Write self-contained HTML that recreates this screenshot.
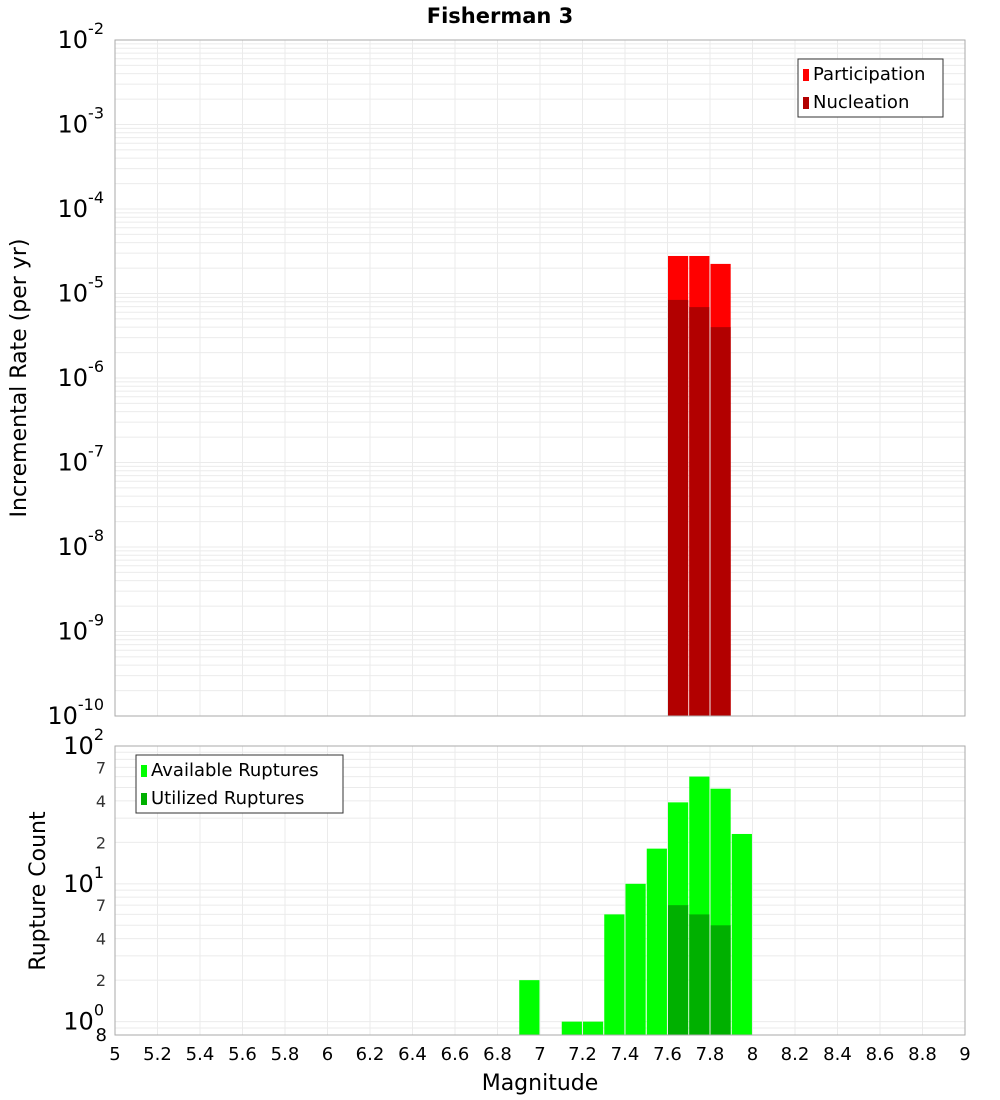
<!DOCTYPE html>
<html><head><meta charset="utf-8"><style>body{margin:0;background:#fff}svg{display:block;font-family:"DejaVu Sans","Liberation Sans",sans-serif}</style></head>
<body>
<svg id="c" width="1000" height="1100"></svg>
<script>
const magBins=[7.65,7.75,7.85];
const participation=[2.78e-5,2.78e-5,2.24e-5];
const nucleation=[8.4e-6,6.9e-6,4.0e-6];
const countBins=[6.95,7.15,7.25,7.35,7.45,7.55,7.65,7.75,7.85,7.95];
const available=[2,1,1,6,10,18,39,60,49,23];
const utilBins=[7.65,7.75,7.85];
const utilized=[7,6,5];
const xTicks=[5,5.2,5.4,5.6,5.8,6,6.2,6.4,6.6,6.8,7,7.2,7.4,7.6,7.8,8,8.2,8.4,8.6,8.8,9];
const topExp=[-10,-9,-8,-7,-6,-5,-4,-3,-2];
const botMinor=[[70,'7'],[40,'4'],[20,'2'],[7,'7'],[4,'4'],[2,'2']];

const svg=document.getElementById('c');const NS='http://www.w3.org/2000/svg';
function el(t,a,p){const e=document.createElementNS(NS,t);for(const k in a)e.setAttribute(k,a[k]);(p||svg).appendChild(e);return e;}
const L=115,R=965;
const x=v=>L+(v-5)/4*(R-L);
const T0=40,T1=716;const yT=v=>T1-(Math.log10(v)+10)/8*(T1-T0);
const B0=746,B1=1035;const lb=Math.log10(0.8);const yB=v=>B1-(Math.log10(v)-lb)/(2-lb)*(B1-B0);

function grid(y0,y1,yf,lo,hi){
  for(let e=lo;e<hi;e++)for(let m=1;m<10;m++){const v=m*Math.pow(10,e);const yy=yf(v);if(yy<y0-0.5||yy>y1+0.5)continue;
    const g=el('line',{x1:L,x2:R,y1:yy,y2:yy,stroke:'#ebebeb','stroke-width':1});}
  xTicks.forEach(t=>{const g=el('line',{x1:x(t),x2:x(t),y1:y0,y2:y1,stroke:'#ebebeb'});});
}
grid(T0,T1,yT,-10,-2);grid(B0,B1,yB,-1,2);

magBins.forEach((m,i)=>{
  let r=el('rect',{x:x(m-0.05)+0.5,width:x(0.095+5)-L,y:yT(participation[i]),height:T1-yT(participation[i]),fill:'#ff0000'});
  
  r=el('rect',{x:x(m-0.05)+0.5,width:x(0.095+5)-L,y:yT(nucleation[i]),height:T1-yT(nucleation[i]),fill:'#b20000'});
  
});
countBins.forEach((m,i)=>{
  const r=el('rect',{x:x(m-0.05)+0.5,width:x(0.095+5)-L,y:yB(available[i]),height:B1-yB(available[i]),fill:'#00ff00'});
  
});
utilBins.forEach((m,i)=>{
  const r=el('rect',{x:x(m-0.05)+0.5,width:x(0.095+5)-L,y:yB(utilized[i]),height:B1-yB(utilized[i]),fill:'#00b000'});
  
});
let f=el('rect',{x:L,y:T0,width:R-L,height:T1-T0,fill:'none',stroke:'#aaa'});
f=el('rect',{x:L,y:B0,width:R-L,height:B1-B0,fill:'none',stroke:'#aaa'});

let t=el('text',{x:500,y:23,'text-anchor':'middle','font-size':21,'font-weight':'bold'});t.textContent='Fisherman 3';
topExp.forEach(e=>{const yy=yT(Math.pow(10,e));
  const tx=el('text',{x:104,y:yy+8,'text-anchor':'end','font-size':24});
  tx.innerHTML='10<tspan dy="-14" font-size="16">'+e+'</tspan>';
});
[[100,'2'],[10,'1'],[1,'0']].forEach(([v,e])=>{const yy=yB(v);
  const tx=el('text',{x:104,y:yy+8,'text-anchor':'end','font-size':24});
  tx.innerHTML='10<tspan dy="-14" font-size="16">'+e+'</tspan>';});
botMinor.forEach(([v,s])=>{const tx=el('text',{x:106,y:yB(v)+6,'text-anchor':'end','font-size':16,fill:'#333'});tx.textContent=s;});
t=el('text',{x:107,y:1041,'text-anchor':'end','font-size':18});t.textContent='8';
xTicks.forEach(v=>{const tx=el('text',{x:x(v),y:1060,'text-anchor':'middle','font-size':18});tx.textContent=String(v);});
t=el('text',{x:540,y:1090,'text-anchor':'middle','font-size':22});t.textContent='Magnitude';
t=el('text',{x:0,y:0,'text-anchor':'middle','font-size':22,transform:'translate(26,378) rotate(-90)'});t.textContent='Incremental Rate (per yr)';
t=el('text',{x:0,y:0,'text-anchor':'middle','font-size':22,transform:'translate(45,891) rotate(-90)'});t.textContent='Rupture Count';
function legend(x0,y0,w,items,name){const g=el('g',{});
  el('rect',{x:x0,y:y0,width:w,height:58,fill:'#fff',stroke:'#333'},g);
  items.forEach(([c,s],i)=>{el('rect',{x:x0+5,y:y0+10+i*28,width:6,height:12,fill:c},g);
    const tx=el('text',{x:x0+15,y:y0+21+i*28,'font-size':18},g);tx.textContent=s;});}
legend(798,59,145,[['#ff0000','Participation'],['#b20000','Nucleation']],'top-legend');
legend(136,755,207,[['#00ff00','Available Ruptures'],['#00b000','Utilized Ruptures']],'bottom-legend');
</script>
</body></html>
